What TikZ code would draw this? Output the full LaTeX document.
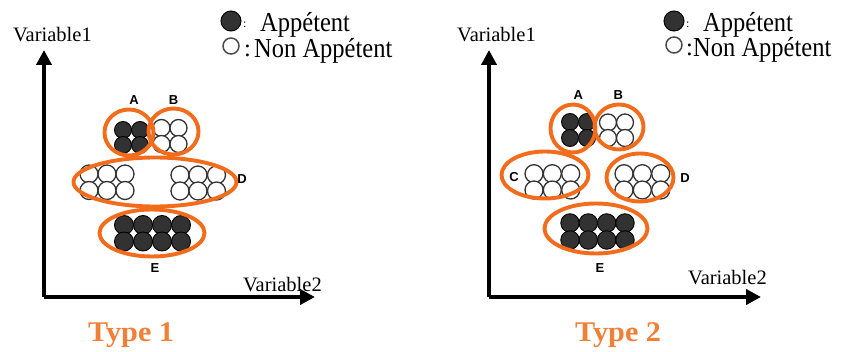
\documentclass[tikz,border=0pt]{standalone}
\usepackage{fontspec}
\setmainfont{Liberation Serif}
\newfontfamily\lsans{Liberation Sans}
\usetikzlibrary{shapes.geometric,arrows.meta}
\definecolor{ora}{RGB}{242,108,28}
\definecolor{tora}{RGB}{240,128,55}
\definecolor{dotfill}{RGB}{50,50,50}
\begin{document}
\begin{tikzpicture}[x=1pt,y=-1pt,
  bdot/.style={circle,draw=black,fill=dotfill,line width=0.9pt,inner sep=0pt,minimum size=17pt},
  wdot/.style={circle,draw=black!80,fill=white,line width=1.3pt,inner sep=0pt,minimum size=17pt},
  grp/.style={ellipse,draw=ora,line width=3.9pt,inner sep=0pt},
  lab/.style={font=\lsans\bfseries\fontsize{13}{13}\selectfont,inner sep=0pt},
  axlab/.style={font=\fontsize{20.5}{22}\selectfont,inner sep=0pt,anchor=base west},
  leg/.style={font=\fontsize{24.5}{26}\selectfont,inner sep=0pt,anchor=base west},
  title/.style={font=\bfseries\fontsize{28.5}{30}\selectfont,text=tora,inner sep=0pt,anchor=base west},
  axis/.style={line width=4pt,-{Triangle[length=15pt,width=15pt]}}
]
\useasboundingbox (0,0) rectangle (843,352);

% ---------------- Type 1 ----------------
\coordinate (o1) at (44,297);
\coordinate (y1) at (44,50);
\coordinate (x1) at (315,297);
\draw[axis] (o1) -- (y1);
\draw[axis] (o1) -- (x1);
\node[axlab] (v11) at (13,41.5) {Variable1};
\node[axlab] (v12) at (243,291.5) {Variable2};
\node[title] (ty1) at (88,341.5) {\scalebox{1.06}[1]{Type 1}};

% legend
\node[circle,draw=black,fill=dotfill,line width=1pt,minimum width=20pt,inner sep=0pt] (l1f) at (231,21) {};
\node[circle,draw=black!70,fill=white,line width=1.5pt,minimum size=16pt,inner sep=0pt] (l1o) at (231,46) {};
\node[leg,font=\fontsize{12}{12}\selectfont] (l1c1) at (243,28) {:};
\node[leg] (l1t1) at (260,32) {\scalebox{1}[1.12]{Appétent}};
\node[leg] (l1c2) at (244,56.5) {:};
\node[leg] (l1t2) at (254,57.5) {\scalebox{1}[1.12]{Non Appétent}};

% dots
\foreach \x [count=\i] in {123,140} \foreach \y [count=\j] in {130,145}
  \node[bdot] (t1a\i\j) at (\x,\y) {};
\foreach \x [count=\i] in {161.5,178.5} \foreach \y [count=\j] in {128,144}
  \node[wdot] (t1b\i\j) at (\x,\y) {};
\foreach \x [count=\i] in {89,107,125} \foreach \y [count=\j] in {174,190.5}
  \node[wdot,minimum size=18pt] (t1c\i\j) at (\x,\y) {};
\foreach \x [count=\i] in {180,198,216.5} \foreach \y [count=\j] in {175,191}
  \node[wdot,minimum size=18pt] (t1d\i\j) at (\x,\y) {};
\foreach \x [count=\i] in {124,143,162,181} \foreach \y [count=\j] in {225,241.5}
  \node[bdot,minimum size=19pt] (t1e\i\j) at (\x,\y) {};

% groups
\node[grp,minimum width=49pt,minimum height=46pt] (g1A) at (129,132.5) {};
\node[grp,minimum width=50pt,minimum height=46pt] (g1B) at (173.5,131.5) {};
\node[grp,minimum width=163pt,minimum height=49pt] (g1D) at (155,182) {};
\node[grp,minimum width=105pt,minimum height=47pt] (g1E) at (152,233) {};

\node[lab] (a1) at (134,100.5) {A};
\node[lab] (b1) at (173.5,100.5) {B};
\node[lab] (d1) at (242,179) {D};
\node[lab] (e1) at (155,268.5) {E};

% ---------------- Type 2 ----------------
\coordinate (o2) at (489,297);
\coordinate (y2) at (489,50);
\coordinate (x2) at (761,297);
\draw[axis] (o2) -- (y2);
\draw[axis] (o2) -- (x2);
\node[axlab] (v21) at (457,42) {Variable1};
\node[axlab] (v22) at (688,285) {Variable2};
\node[title] (ty2) at (575,341.5) {\scalebox{1.06}[1]{Type 2}};

% legend
\node[circle,draw=black,fill=dotfill,line width=1pt,minimum width=20pt,inner sep=0pt] (l2f) at (674,21) {};
\node[circle,draw=black!70,fill=white,line width=1.5pt,minimum size=16pt,inner sep=0pt] (l2o) at (674,45) {};
\node[leg,font=\fontsize{12}{12}\selectfont] (l2c1) at (686,28) {:};
\node[leg] (l2t1) at (703,31.5) {\scalebox{1}[1.12]{Appétent}};
\node[leg] (l2c2) at (686,55.5) {:};
\node[leg] (l2t2) at (693,56.5) {\scalebox{1}[1.12]{Non Appétent}};

% dots
\foreach \x [count=\i] in {570,587} \foreach \y [count=\j] in {122,138}
  \node[bdot] (t2a\i\j) at (\x,\y) {};
\foreach \x [count=\i] in {608,625} \foreach \y [count=\j] in {122.5,138}
  \node[wdot] (t2b\i\j) at (\x,\y) {};
\foreach \x [count=\i] in {534,552.3,570.7} \foreach \y [count=\j] in {173.7,190}
  \node[wdot,minimum size=18pt] (t2c\i\j) at (\x,\y) {};
\foreach \x [count=\i] in {624,642.3,660.7} \foreach \y [count=\j] in {173.7,190}
  \node[wdot,minimum size=18pt] (t2d\i\j) at (\x,\y) {};
\foreach \x [count=\i] in {570,588.3,606.7,625} \foreach \y [count=\j] in {223,240}
  \node[bdot,minimum size=18.5pt] (t2e\i\j) at (\x,\y) {};

% groups
\node[grp,minimum width=45pt,minimum height=48pt] (g2A) at (573,128.5) {};
\node[grp,minimum width=49pt,minimum height=45pt] (g2B) at (619,127) {};
\node[grp,minimum width=87pt,minimum height=47pt] (g2C) at (545,175) {};
\node[grp,minimum width=67pt,minimum height=48pt] (g2D) at (640,177.5) {};
\node[grp,minimum width=103pt,minimum height=50pt] (g2E) at (596,228.5) {};

\node[lab] (a2) at (578.3,95) {A};
\node[lab] (b2) at (618.3,95) {B};
\node[lab] (c2) at (514,177.3) {C};
\node[lab] (d2) at (685,178.3) {D};
\node[lab] (e2) at (600,268.3) {E};
\end{tikzpicture}
\end{document}
